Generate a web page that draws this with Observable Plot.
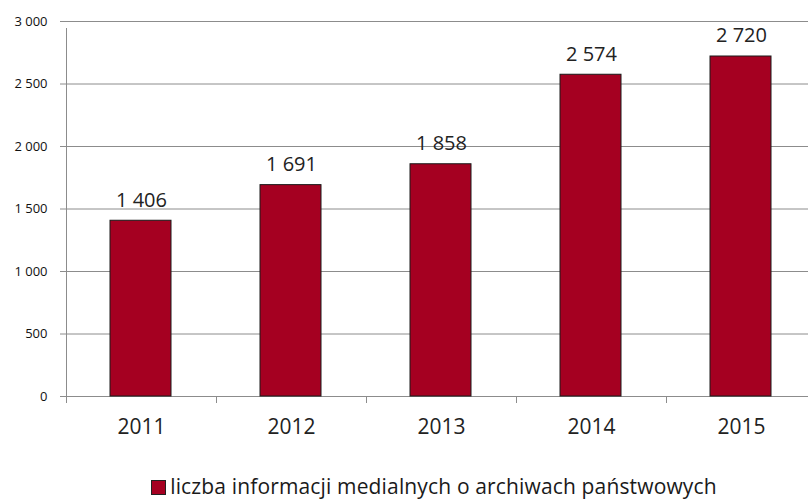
<!DOCTYPE html>
<html><head><meta charset="utf-8">
<script src="https://cdn.jsdelivr.net/npm/d3@7"></script>
<script src="https://cdn.jsdelivr.net/npm/@observablehq/plot@0.6"></script>
<style>
body{margin:0;background:#fff;font-family:"Open Sans",sans-serif;}
#wrap{position:relative;width:808px;height:500px;overflow:hidden;}
#legend{position:absolute;left:30px;top:472px;width:808px;text-align:center;font-size:21px;color:#1a1a1a;white-space:nowrap;letter-spacing:0.15px;}
#legend .sw{display:inline-block;width:13px;height:13px;background:#A50021;border:1px solid #222;vertical-align:-1px;margin-right:4px;}
</style></head>
<body><div id="wrap"><div id="chart"></div><div id="legend"><span class="sw"></span>liczba informacji medialnych o archiwach państwowych</div></div>
<script>
const years = ["2011","2012","2013","2014","2015"];
const values = [1406, 1691, 1858, 2574, 2720];
const yTicks = [0, 500, 1000, 1500, 2000, 2500, 3000];
const seriesName = "liczba informacji medialnych o archiwach państwowych";

const data = years.map((y, i) => ({year: y, value: values[i]}));
const fmt = v => d3.format(",")(v).replace(/,/g, " ");

const chart = Plot.plot({
  width: 808,
  height: 460,
  marginLeft: 66,
  marginRight: 0,
  marginTop: 21,
  marginBottom: 64,
  style: {fontFamily: "Open Sans, sans-serif", background: "#fff"},
  x: {domain: years, range: [66, 816], padding: 0, label: null},
  y: {domain: [0, 3000], range: [396, 21], label: null},
  marks: [
    Plot.ruleY(yTicks, {y: d => d, stroke: "#8c8c8c", strokeWidth: 1}),
    Plot.barY(data, {x: "year", y: "value", fill: "#A50021", stroke: "#1a1a1a", strokeWidth: 1, insetLeft: 44, insetRight: 45}),
    Plot.text(data, {x: "year", y: "value", text: d => fmt(d.value), fontSize: 20, fill: "#222", dy: -20.5}),
    Plot.axisY({ticks: yTicks, tickSize: 6, tickPadding: 13, tickFormat: fmt, fontSize: 13, fill: "#111", stroke: "#8c8c8c", label: null}),
    Plot.ruleX([0], {x: () => years[0], dx: -75, y1: 0, y2: 3000, stroke: "#8c8c8c", insetBottom: -7}),
    Plot.axisX({tickSize: 7, tickFormat: () => "", dx: -75, stroke: "#8c8c8c", label: null}),
    Plot.axisX({tickSize: 0, tickPadding: 23, fontSize: 21, fill: "#222", label: null})
  ]
});
document.getElementById("chart").appendChild(chart);
</script>
</body></html>
